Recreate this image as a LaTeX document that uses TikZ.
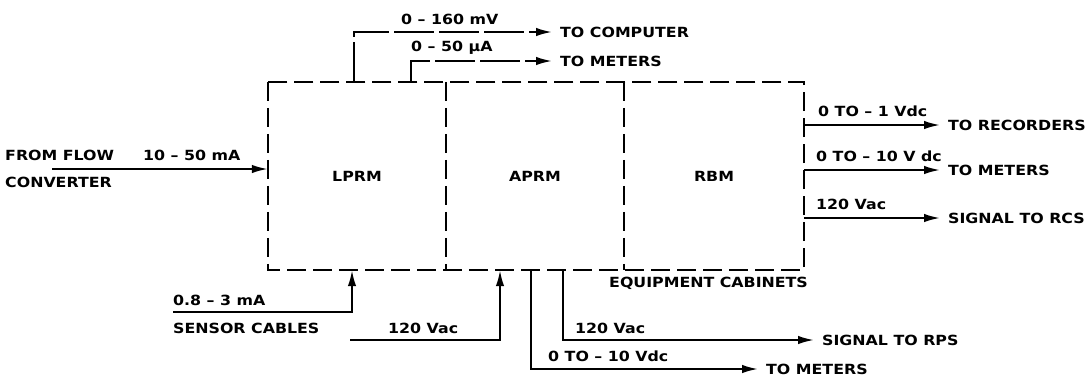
\documentclass[tikz,border=0pt]{standalone}
\usepackage{fontspec}
\setmainfont{DejaVu Sans}[FakeStretch=1.13]
\usetikzlibrary{arrows.meta,positioning}
\tikzset{
  >={Latex[length=16pt,width=8.5pt]},
  cab/.style={line width=2.3pt,dash pattern=on 19pt off 7pt},
  unit/.style={minimum height=188pt,inner sep=0pt,font=\fontsize{14}{16}\selectfont\bfseries},
  wire/.style={line width=2pt},
  sig/.style={->,line width=2pt},
  sigbrk/.style={sig,dash pattern=on 40pt off 5pt},
  lbl/.style={anchor=west,inner sep=0pt,font=\fontsize{14}{16}\selectfont\bfseries},
  dest/.style={anchor=west,inner xsep=8pt,inner ysep=0pt,font=\fontsize{14}{16}\selectfont\bfseries},
}
\begin{document}
\begin{tikzpicture}[x=1pt,y=-1pt]
  \useasboundingbox (0,0) rectangle (1088,381);
  % cabinets
  \node[unit,minimum width=178pt] (lprm) at (357,176) {LPRM};
  \node[unit,minimum width=178pt] (aprm) at (535,176) {APRM};
  \node[unit,minimum width=180pt] (rbm) at (714,176) {RBM};
  \draw[cab] (lprm.north west) rectangle (rbm.south east);
  \draw[cab] (lprm.north east) -- (lprm.south east);
  \draw[cab] (aprm.north east) -- (aprm.south east);
  \node[lbl] (cabs) at (609,283) {EQUIPMENT CABINETS};
  % input from flow converter
  \node[lbl] (ff) at (5,155) {FROM FLOW};
  \node[lbl] (conv) at (5,182) {CONVERTER};
  \coordinate (ffin) at (52,169);
  \draw[sig] (ffin) -- (lprm.west |- ffin);
  \node[lbl] at (143,155) {10 -- 50 mA};
  % top outputs
  \node[dest] (comp) at (552,32) {TO COMPUTER};
  \node[dest] (met1) at (552,61) {TO METERS};
  \draw[sigbrk] ([xshift=-3pt]lprm.north) |- (comp.west);
  \draw[sigbrk] ([xshift=54pt]lprm.north) |- (met1.west);
  \node[lbl] at (401,19) {0 -- 160 mV};
  \node[lbl] at (411,48) {0 -- 50 µA};
  % right outputs
  \node[dest] (rec) at (940,125) {TO RECORDERS};
  \node[dest] (met2) at (940,170) {TO METERS};
  \node[dest] (rcs) at (940,218) {SIGNAL TO RCS};
  \draw[sig] (rbm.east |- rec.west) -- (rec.west);
  \draw[sig] (rbm.east |- met2.west) -- (met2.west);
  \draw[sig] (rbm.east |- rcs.west) -- (rcs.west);
  \node[lbl] at (818,111) {0 TO -- 1 Vdc};
  \node[lbl] at (816,156) {0 TO -- 10 V dc};
  \node[lbl] at (816,204) {120 Vac};
  % bottom inputs
  \coordinate (sens) at (173,312);
  \draw[sig] (sens) -| ([xshift=-5pt]lprm.south);
  \node[lbl] at (173,300) {0.8 -- 3 mA};
  \node[lbl] (scab) at (173,328) {SENSOR CABLES};
  \coordinate (ac) at (350,340);
  \draw[sig] (ac) -| ([xshift=-35pt]aprm.south);
  \node[lbl] at (388,328) {120 Vac};
  % bottom outputs
  \node[dest] (rps) at (814,340) {SIGNAL TO RPS};
  \node[dest] (met3) at (758,369) {TO METERS};
  \draw[sig] ([xshift=28pt]aprm.south) |- (rps.west);
  \draw[sig] ([xshift=-4pt]aprm.south) |- (met3.west);
  \node[lbl] at (575,328) {120 Vac};
  \node[lbl] at (548,356) {0 TO -- 10 Vdc};
\end{tikzpicture}
\end{document}
